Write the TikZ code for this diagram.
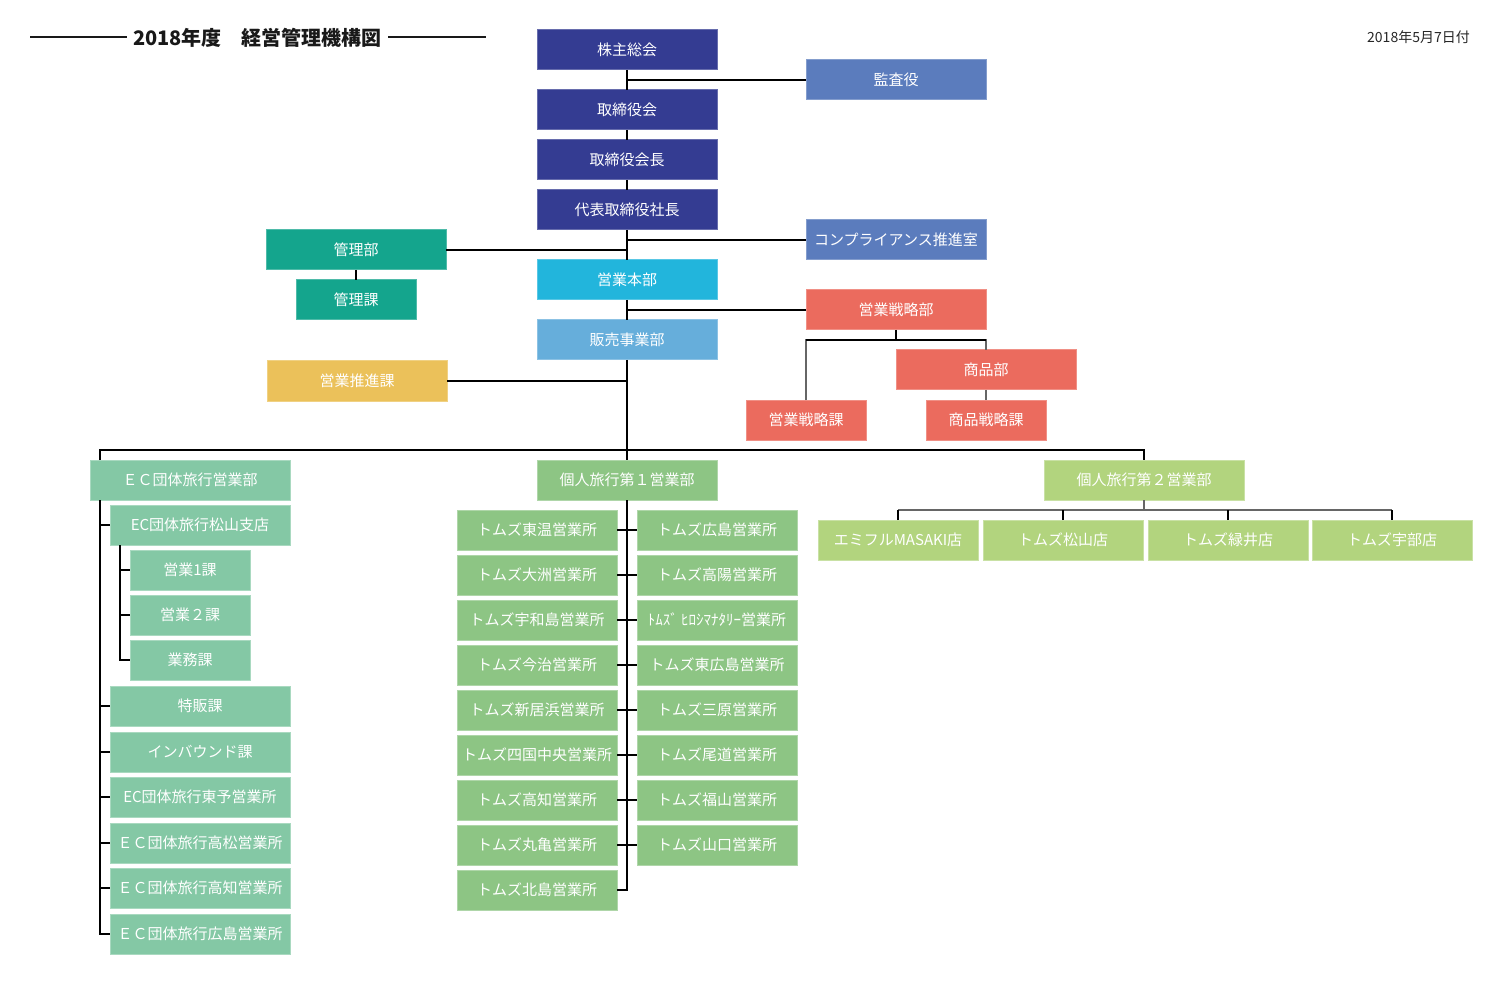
\documentclass[tikz,border=0pt]{standalone}
\usepackage{fontspec}
\setmainfont{Noto Sans CJK JP}
\definecolor{cNavy}{RGB}{52,60,146}
\definecolor{cBlue}{RGB}{91,124,189}
\definecolor{cTeal}{RGB}{20,165,141}
\definecolor{cCyan}{RGB}{34,181,220}
\definecolor{cLtBlue}{RGB}{102,174,219}
\definecolor{cYellow}{RGB}{235,193,90}
\definecolor{cRed}{RGB}{235,107,94}
\definecolor{cEC}{RGB}{132,200,165}
\definecolor{cK1}{RGB}{141,197,132}
\definecolor{cK2}{RGB}{178,212,126}
\begin{document}
\begin{tikzpicture}[x=1pt,y=-1pt,
  box/.style={rectangle, inner sep=0pt, outer sep=0pt, minimum height=40pt, text=white,
    font=\fontsize{15}{15}\selectfont, line width=1pt},
  w180/.style={minimum width=180pt}, w200/.style={minimum width=200pt},
  w160/.style={minimum width=160pt}, w120/.style={minimum width=120pt},
  navy/.style={box, fill=cNavy, draw=cNavy!75!white},
  blue/.style={box, fill=cBlue, draw=cBlue!75!white},
  teal/.style={box, fill=cTeal, draw=cTeal!75!white},
  cyan/.style={box, fill=cCyan, draw=cCyan!75!white},
  ltblue/.style={box, fill=cLtBlue, draw=cLtBlue!75!white},
  yellow/.style={box, fill=cYellow, draw=cYellow!75!white},
  red/.style={box, fill=cRed, draw=cRed!75!white},
  ec/.style={box, fill=cEC, draw=cEC!70!white},
  kone/.style={box, fill=cK1, draw=cK1!70!white},
  ktwo/.style={box, fill=cK2, draw=cK2!70!white},
  conn/.style={draw=black, line width=1.2pt},
  gconn/.style={draw=black!60, line width=1.2pt}]
\useasboundingbox (0,0) rectangle (1500,1000);

% title and date
\node[inner sep=6pt, font=\fontsize{20}{20}\selectfont\bfseries, text=black!90] (title) at (257.5,38) {2018年度\quad 経営管理機構図};
\coordinate (tl) at (30,37);
\coordinate (tr) at (486,37);
\draw[line width=1.5pt, black!90] (tl) -- (title.west |- tl);
\draw[line width=1.5pt, black!90] (title.east |- tr) -- (tr);
\node[anchor=east, inner sep=0pt, font=\fontsize{14}{14}\selectfont, text=black!85] (date) at (1470,37) {2018年5月7日付};

% top chain
\node[navy, w180] (kabu) at (627,50) {株主総会};
\node[navy, w180] (tori) at (627,110) {取締役会};
\node[navy, w180] (kaicho) at (627,160) {取締役会長};
\node[navy, w180] (shacho) at (627,210) {代表取締役社長};
\node[blue, w180] (kansa) at (896,80) {監査役};
\node[blue, w180] (comp) at (896,240) {コンプライアンス推進室};
\node[teal, w180] (kanribu) at (356,250) {管理部};
\node[teal, w120] (kanrika) at (356,300) {管理課};
\node[cyan, w180] (honbu) at (627,280) {営業本部};
\node[ltblue, w180] (hanbai) at (627,340) {販売事業部};
\node[yellow, w180] (suishin) at (357,381) {営業推進課};
\node[red, w180] (senbu) at (896,310) {営業戦略部};
\node[red, w180] (shohinbu) at (986,370) {商品部};
\node[red, w120] (senka) at (806,420) {営業戦略課};
\node[red, w120] (shoka) at (986,420) {商品戦略課};

\draw[conn] (kabu.south) -- (tori.north);
\draw[conn] (tori.south) -- (kaicho.north);
\draw[conn] (kaicho.south) -- (shacho.north);
\draw[conn] (shacho.south) -- (honbu.north);
\draw[conn] (honbu.south) -- (hanbai.north);
\draw[conn] (kansa.west) -- (kansa.west -| kabu.south);
\draw[conn] (comp.west) -- (comp.west -| shacho.south);
\draw[conn] (kanribu.east) -- (kanribu.east -| shacho.south);
\draw[conn] (senbu.west) -- (senbu.west -| honbu.south);
\draw[conn] (suishin.east) -- (suishin.east -| hanbai.south);
\draw[conn] (kanribu.south) -- (kanrika.north);
\draw[conn] (senbu.south) -- ++(0,10) coordinate (sbj);
\draw[gconn] (senka.north) |- (sbj);
\draw[gconn] (sbj) -| (shohinbu.north);
\draw[conn] (senka.north |- sbj) -- (sbj) -- (shohinbu.north |- sbj);
\draw[gconn] (shohinbu.south) -- (shoka.north);

% second level
\node[ec, w200] (ecb) at (190,480) {ＥＣ団体旅行営業部};
\node[kone, w180] (kojin1) at (627,480) {個人旅行第１営業部};
\node[ktwo, w200] (kojin2) at (1144,480) {個人旅行第２営業部};

\coordinate (busL) at (100,450);
\draw[conn] (hanbai.south) -- (kojin1.north);
\draw[conn] (busL |- ecb.north) -- (busL) -- (kojin2.north |- busL) -- (kojin2.north);

% EC group
\node[ec, w180] (mat) at (200,525) {EC団体旅行松山支店};
\node[ec, w120] (e1) at (190,570) {営業1課};
\node[ec, w120] (e2) at (190,615) {営業２課};
\node[ec, w120] (gyomu) at (190,660) {業務課};
\node[ec, w180] (tokuhan) at (200,706) {特販課};
\node[ec, w180] (inb) at (200,752) {インバウンド課};
\node[ec, w180] (toyo) at (200,797) {EC団体旅行東予営業所};
\node[ec, w180] (takam) at (200,843) {ＥＣ団体旅行高松営業所};
\node[ec, w180] (kochi) at (200,888) {ＥＣ団体旅行高知営業所};
\node[ec, w180] (hiro) at (200,934) {ＥＣ団体旅行広島営業所};

\draw[conn] (busL |- ecb.south) |- (hiro.west);
\foreach \n in {mat,tokuhan,inb,toyo,takam,kochi}
  \draw[conn] (busL |- \n.west) -- (\n.west);
\coordinate (subx) at (120,545);
\draw[conn] (subx |- mat.south) |- (gyomu.west);
\draw[conn] (subx |- e1.west) -- (e1.west);
\draw[conn] (subx |- e2.west) -- (e2.west);

% kojin 1
\foreach \i/\t in {1/トムズ東温営業所,2/トムズ大洲営業所,3/トムズ宇和島営業所,4/トムズ今治営業所,5/トムズ新居浜営業所,6/トムズ四国中央営業所,7/トムズ高知営業所,8/トムズ丸亀営業所,9/トムズ北島営業所}
  \node[kone, w160] (kl\i) at (537,{530+45*(\i-1)}) {\t};
\foreach \i/\t in {1/トムズ広島営業所,2/トムズ高陽営業所,3/ﾄﾑｽﾞ ﾋﾛｼﾏﾅﾀﾘｰ営業所,4/トムズ東広島営業所,5/トムズ三原営業所,6/トムズ尾道営業所,7/トムズ福山営業所,8/トムズ山口営業所}
  \node[kone, w160] (kr\i) at (717,{530+45*(\i-1)}) {\t};
\draw[conn] (kojin1.south) |- (kl9.east);
\foreach \i in {1,...,8}
  \draw[conn] (kl\i.east) -- (kr\i.west);

% kojin 2
\node[ktwo, w160] (s1) at (898,540) {エミフルMASAKI店};
\node[ktwo, w160] (s2) at (1063,540) {トムズ松山店};
\node[ktwo, w160] (s3) at (1228,540) {トムズ緑井店};
\node[ktwo, w160] (s4) at (1392,540) {トムズ宇部店};
\draw[gconn] (kojin2.south) -- ++(0,10) coordinate (k2j);
\draw[gconn] (s1.north |- k2j) -- (s4.north |- k2j);
\foreach \n in {s1,s2,s3,s4}
  \draw[conn] (\n.north) -- (\n.north |- k2j);
\end{tikzpicture}
\end{document}
